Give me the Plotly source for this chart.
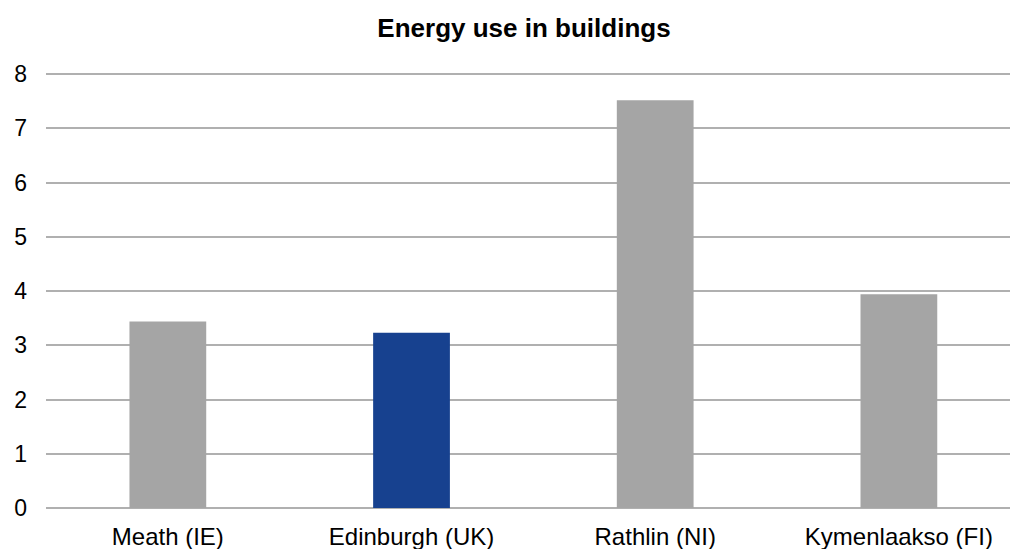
import plotly.graph_objects as go

# Energy use in buildings by region
regions = ["Meath (IE)", "Edinburgh (UK)", "Rathlin (NI)", "Kymenlaakso (FI)"]
energy_use = [3.44, 3.23, 7.52, 3.94]
bar_colors = ["#a5a5a5", "#17418f", "#a5a5a5", "#a5a5a5"]
y_ticks = [0, 1, 2, 3, 4, 5, 6, 7, 8]

font_family = "Liberation Sans, Arial, sans-serif"
grid_color = "#b0b0b0"

fig = go.Figure(
    go.Bar(
        x=list(range(len(regions))),
        y=energy_use,
        marker=dict(color=bar_colors, line=dict(width=0)),
        width=0.315,
    )
)

fig.update_layout(
    width=1010,
    height=549,
    margin=dict(l=46, r=0, t=72, b=41),
    paper_bgcolor="white",
    plot_bgcolor="white",
    showlegend=False,
    title=dict(
        text="<b>Energy use in buildings</b>",
        x=524 / 1010,
        xref="container",
        xanchor="center",
        y=1 - 28 / 549,
        yref="container",
        yanchor="middle",
        font=dict(family=font_family, size=26, color="#000000"),
    ),
)

fig.update_xaxes(
    range=[-0.5, 3.456],
    tickmode="array",
    tickvals=list(range(len(regions))),
    ticktext=regions,
    showgrid=False,
    zeroline=False,
    showline=False,
    ticks="",
    ticklabelstandoff=12,
    tickfont=dict(family=font_family, size=24, color="#000000"),
)

fig.update_yaxes(
    # a little headroom above 8 so the top grid line is kept
    range=[0, 8.04],
    tickmode="array",
    tickvals=y_ticks,
    showgrid=True,
    gridcolor=grid_color,
    gridwidth=2,
    zeroline=True,
    zerolinecolor=grid_color,
    zerolinewidth=2,
    showline=False,
    ticks="",
    ticklabelstandoff=18,
    tickfont=dict(family=font_family, size=23, color="#000000"),
)

fig.write_html("out.html")
